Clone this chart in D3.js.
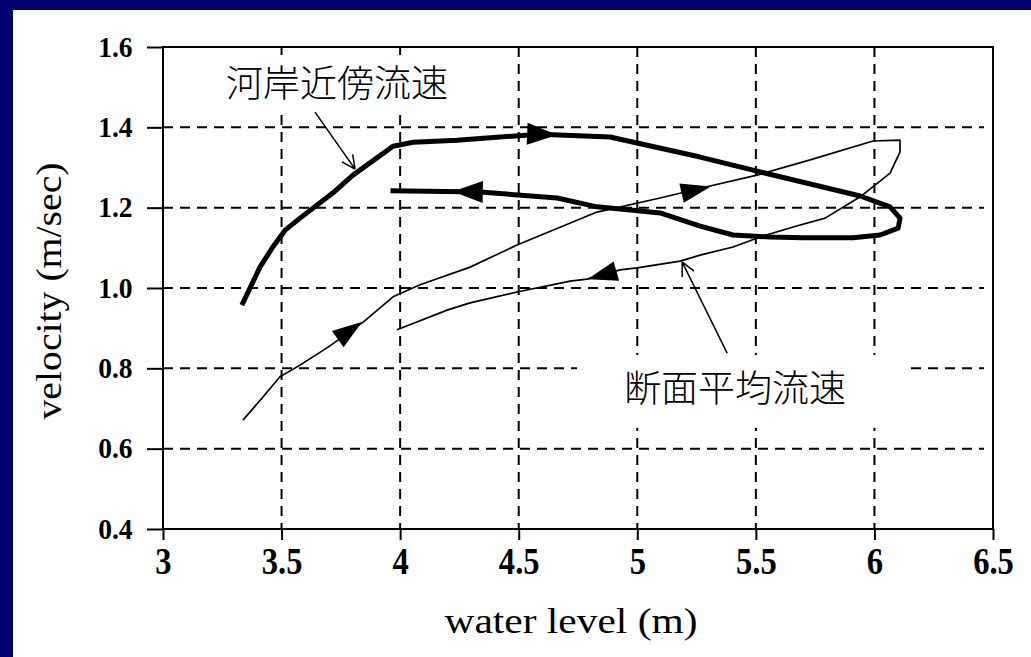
<!DOCTYPE html>
<html>
<head>
<meta charset="utf-8">
<script src="https://cdn.jsdelivr.net/npm/d3@7/dist/d3.min.js"></script>
<style>
html, body { margin: 0; padding: 0; background: #fff; overflow: hidden; }
</style>
</head>
<body>
<div id="chart-area"></div>
<script>
// values: water level (m) -> velocity (m/sec)
const bankLevel = [3.337, 3.409, 3.463, 3.515, 3.578, 3.717, 3.801, 3.970, 4.055, 4.240, 4.590, 4.885, 4.999, 5.265, 5.518, 5.940, 6.066, 6.108, 6.100, 6.024, 5.910, 5.699, 5.560, 5.404, 5.265, 5.096, 4.970, 4.830, 4.662, 4.337, 3.970]
const bankVelocity = [0.963, 1.052, 1.102, 1.144, 1.174, 1.237, 1.281, 1.353, 1.363, 1.368, 1.383, 1.376, 1.361, 1.326, 1.289, 1.229, 1.202, 1.174, 1.149, 1.132, 1.125, 1.125, 1.127, 1.132, 1.154, 1.187, 1.194, 1.202, 1.224, 1.239, 1.242]

const meanLevel = [3.337, 3.418, 3.493, 3.578, 3.704, 3.844, 3.970, 4.084, 4.295, 4.493, 4.830, 5.096, 5.307, 5.505, 5.729, 5.994, 6.108, 6.108, 6.066, 5.940, 5.792, 5.657, 5.518, 5.404, 5.265, 5.181, 4.999, 4.927, 4.788, 4.717, 4.493, 4.295, 4.198, 3.987]
const meanVelocity = [0.671, 0.726, 0.779, 0.808, 0.856, 0.915, 0.978, 1.008, 1.052, 1.107, 1.189, 1.224, 1.254, 1.281, 1.319, 1.366, 1.368, 1.339, 1.286, 1.227, 1.174, 1.152, 1.127, 1.102, 1.082, 1.067, 1.050, 1.045, 1.022, 1.017, 0.990, 0.963, 0.945, 0.896]

// arrow tips on each loop
const bankArrowLevel = [4.662, 4.222]
const bankArrowVelocity = [1.381, 1.240]
const meanArrowLevel = [3.840, 5.310, 4.790]
const meanArrowVelocity = [0.916, 1.253, 1.022]

const xTicks = [3, 3.5, 4, 4.5, 5, 5.5, 6, 6.5]
const yTicks = [0.4, 0.6, 0.8, 1.0, 1.2, 1.4, 1.6]
const xGrid = [3.5, 4, 4.5, 5, 5.5, 6]
const yGrid = [0.6, 0.8, 1.0, 1.2, 1.4]

const bankName = "河岸近傍流速"
const meanName = "断面平均流速"

const MARGIN = { LEFT: 163, RIGHT: 38, TOP: 47, BOTTOM: 128 }
const WIDTH = 1031 - MARGIN.LEFT - MARGIN.RIGHT
const HEIGHT = 657 - MARGIN.TOP - MARGIN.BOTTOM

const svg = d3.select("#chart-area").append("svg")
    .attr("width", WIDTH + MARGIN.LEFT + MARGIN.RIGHT)
    .attr("height", HEIGHT + MARGIN.TOP + MARGIN.BOTTOM)
    .style("display", "block")

// slide background: navy strips on the left and top only
svg.append("rect").attr("width", 1031).attr("height", 657).attr("fill", "#fff")
svg.append("rect").attr("width", 13).attr("height", 657).attr("fill", "#00006e")
svg.append("rect").attr("width", 1031).attr("height", 10).attr("fill", "#00006e")

const g = svg.append("g")
    .attr("transform", `translate(${MARGIN.LEFT}, ${MARGIN.TOP})`)

// Scales
const x = d3.scaleLinear()
    .range([0, WIDTH])
    .domain([3, 6.5])

const y = d3.scaleLinear()
    .range([HEIGHT, 0])
    .domain([0.4, 1.6])

// Grid
g.append("g").selectAll("line").data(yGrid).enter().append("line")
    .attr("x1", 0).attr("x2", WIDTH - 9)
    .attr("y1", d => y(d)).attr("y2", d => y(d))
g.append("g").selectAll("line").data(xGrid).enter().append("line")
    .attr("x1", d => x(d)).attr("x2", d => x(d))
    .attr("y1", 0).attr("y2", HEIGHT)
g.selectAll("g line")
    .attr("stroke", "#000")
    .attr("stroke-width", 2)
    .attr("stroke-dasharray", "10,7")

// white boxes behind the two labels
const boxes = [[3.198, 4.274, 1.580, 1.443], [4.746, 6.142, 0.833, 0.652]]
g.selectAll(".labelBox").data(boxes).enter().append("rect")
    .attr("class", "labelBox")
    .attr("x", d => x(d[0])).attr("width", d => x(d[1]) - x(d[0]))
    .attr("y", d => y(d[2])).attr("height", d => y(d[3]) - y(d[2]))
    .attr("fill", "#fff")

// Frame
g.append("rect")
    .attr("width", WIDTH).attr("height", HEIGHT)
    .attr("fill", "none").attr("stroke", "#000").attr("stroke-width", 2)

// X Axis
const xAxisCall = d3.axisBottom(x)
    .tickValues(xTicks)
    .tickSizeInner(11).tickSizeOuter(0)
    .tickPadding(8)
    .tickFormat(d3.format("~g"))
const xAxis = g.append("g")
    .attr("class", "x axis")
    .attr("transform", `translate(0, ${HEIGHT})`)
    .call(xAxisCall)
xAxis.select(".domain").remove()
xAxis.selectAll("line").attr("stroke-width", 2)
xAxis.selectAll("text")
    .attr("font-family", "'Liberation Serif', serif")
    .attr("font-weight", "bold")
    .attr("font-size", "37px")
    .attr("fill", "#000")
    .attr("transform", "scale(0.88, 1)")

// Y Axis
const yAxisCall = d3.axisLeft(y)
    .tickValues(yTicks)
    .tickSizeInner(16).tickSizeOuter(0)
    .tickPadding(16)
    .tickFormat(d3.format(".1f"))
const yAxis = g.append("g")
    .attr("class", "y axis")
    .call(yAxisCall)
yAxis.select(".domain").remove()
yAxis.selectAll("line").attr("stroke-width", 2)
yAxis.selectAll("text")
    .attr("font-family", "'Liberation Serif', serif")
    .attr("font-weight", "bold")
    .attr("font-size", "29px")
    .attr("fill", "#000")
    .attr("transform", "scale(0.95, 1)")

// Labels
g.append("text")
    .attr("x", WIDTH / 2 - 7)
    .attr("y", HEIGHT + 104)
    .attr("font-family", "'Liberation Serif', serif")
    .attr("font-size", "36px")
    .attr("text-anchor", "middle")
    .attr("textLength", 253)
    .attr("lengthAdjust", "spacingAndGlyphs")
    .text("water level (m)")
g.append("text")
    .attr("transform", "rotate(-90)")
    .attr("x", -(HEIGHT / 2 + 3))
    .attr("y", -102)
    .attr("font-family", "'Liberation Serif', serif")
    .attr("font-size", "36px")
    .attr("text-anchor", "middle")
    .attr("textLength", 257)
    .attr("lengthAdjust", "spacingAndGlyphs")
    .text("velocity (m/sec)")

// Loops
const line = d3.line().x(d => x(d[0])).y(d => y(d[1]))
const bank = d3.zip(bankLevel, bankVelocity)
const mean = d3.zip(meanLevel, meanVelocity)

g.append("path").datum(mean)
    .attr("d", line)
    .attr("fill", "none").attr("stroke", "#000")
    .attr("stroke-width", 1.7).attr("stroke-linejoin", "round")
g.append("path").datum(bank)
    .attr("d", line)
    .attr("fill", "none").attr("stroke", "#000")
    .attr("stroke-width", 5).attr("stroke-linejoin", "round").attr("stroke-linecap", "square")

// direction of travel at a tip = direction of the nearest segment
function heading(pts, tip) {
    let best = Infinity, ang = 0
    for (let i = 0; i < pts.length - 1; i++) {
        const ax = x(pts[i][0]), ay = y(pts[i][1]), bx = x(pts[i + 1][0]), by = y(pts[i + 1][1])
        const dx = bx - ax, dy = by - ay
        const t = Math.max(0, Math.min(1, ((tip[0] - ax) * dx + (tip[1] - ay) * dy) / (dx * dx + dy * dy)))
        const dist = Math.hypot(ax + t * dx - tip[0], ay + t * dy - tip[1])
        if (dist < best) { best = dist; ang = Math.atan2(dy, dx) }
    }
    return ang
}
function arrowHead(pts, tip, len, half) {
    const px = x(tip[0]), py = y(tip[1])
    const a = heading(pts, [px, py])
    const c = Math.cos(a), s = Math.sin(a)
    const bx = px - len * c, by = py - len * s
    return `M${px},${py}L${bx - half * s},${by + half * c}L${bx + half * s},${by - half * c}Z`
}
g.selectAll(".bankArrow").data(d3.zip(bankArrowLevel, bankArrowVelocity)).enter().append("path")
    .attr("class", "bankArrow")
    .attr("d", d => arrowHead(bank, d, 30, 11))
g.selectAll(".meanArrow").data(d3.zip(meanArrowLevel, meanArrowVelocity)).enter().append("path")
    .attr("class", "meanArrow")
    .attr("d", d => arrowHead(mean, d, 30, 10))

// Annotations with leader arrows
const notes = [
    { text: bankName, at: [3.266, 1.4755], from: [3.641, 1.438], to: [3.810, 1.296] },
    { text: meanName, at: [4.944, 0.716], from: [5.379, 0.838], to: [5.189, 1.065] }
]
notes.forEach(n => {
    g.append("text")
        .attr("x", x(n.at[0])).attr("y", y(n.at[1]))
        .attr("font-family", "'Noto Sans CJK JP', sans-serif")
        .attr("font-weight", 300)
        .attr("font-size", "37px")
        .text(n.text)
    const x1 = x(n.from[0]), y1 = y(n.from[1]), x2 = x(n.to[0]), y2 = y(n.to[1])
    const a = Math.atan2(y2 - y1, x2 - x1)
    const wing = w => `M${x2 - 15 * Math.cos(a + w)},${y2 - 15 * Math.sin(a + w)}L${x2},${y2}`
    g.append("path")
        .attr("d", `M${x1},${y1}L${x2},${y2}` + wing(0.45) + wing(-0.45))
        .attr("fill", "none").attr("stroke", "#000").attr("stroke-width", 1.5)
})
</script>
</body>
</html>
